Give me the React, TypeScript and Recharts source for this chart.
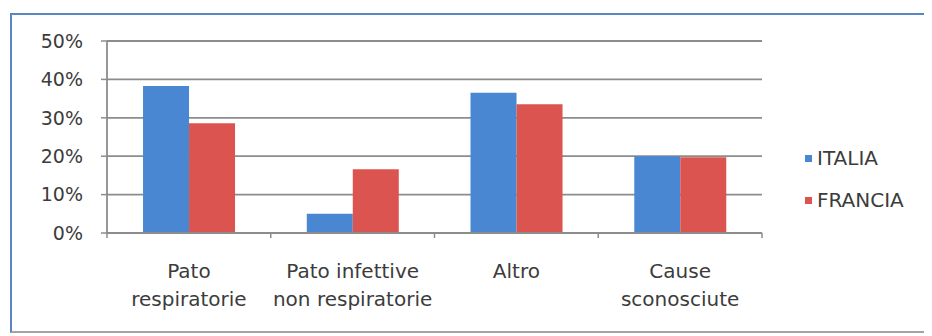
import { BarChart, Bar, XAxis, YAxis, CartesianGrid } from "recharts";

const categories = [
  "Pato\nrespiratorie",
  "Pato infettive\nnon respiratorie",
  "Altro",
  "Cause\nsconosciute",
];
const italia = [38.3, 5, 36.5, 20];
const francia = [28.6, 16.6, 33.5, 19.7];
const yTicks = [0, 10, 20, 30, 40, 50];

const seriesNames = ["ITALIA", "FRANCIA"];
const seriesColors = ["#4a87d2", "#db5450"];

const axisGray = "#8c8c8c";
const textColor = "#3c3c3c";
const font = "'DejaVu Sans', sans-serif";

const data = categories.map((name, i) => ({
  name,
  italia: italia[i],
  francia: francia[i],
}));

// two-line category labels plus little marks between the categories
function CategoryTick(props: any) {
  const { x, y, payload, width, visibleTicksCount, index } = props;
  const lines = String(payload.value).split("\n");
  const half = payload.offset || width / visibleTicksCount / 2;
  return (
    <g>
      <line x1={x - half} y1={y} x2={x - half} y2={y + 5} stroke={axisGray} strokeWidth={1.5} />
      {index === visibleTicksCount - 1 && (
        <line x1={x + half} y1={y} x2={x + half} y2={y + 5} stroke={axisGray} strokeWidth={1.5} />
      )}
      {lines.map((line, i) => (
        <text
          key={i}
          x={x}
          y={y + 45 + i * 28}
          textAnchor="middle"
          fontSize={20}
          fontFamily={font}
          fill={textColor}
        >
          {line}
        </text>
      ))}
    </g>
  );
}

export default function App() {
  return (
    <div style={{ position: "relative", width: 924, height: 328, fontFamily: font }}>
      <div
        style={{
          position: "absolute",
          left: 2,
          top: 5,
          width: 922,
          height: 320,
          boxSizing: "border-box",
          borderTop: "2px solid #5b86c2",
          borderLeft: "2px solid #5b86c2",
          borderBottom: "2px solid #a4a4a4",
          borderRight: "1px solid #e2e2e2",
        }}
      />
      <div style={{ position: "absolute", left: 0, top: 0 }}>
        <BarChart
          width={924}
          height={328}
          data={data}
          margin={{ top: 33, right: 170, bottom: 43, left: 0 }}
          barGap={0}
          barCategoryGap="22%"
        >
          <CartesianGrid vertical={false} stroke={axisGray} strokeWidth={1.8} />
          <XAxis
            dataKey="name"
            height={60}
            tickLine={false}
            tickSize={0}
            tickMargin={0}
            interval={0}
            axisLine={{ stroke: axisGray, strokeWidth: 1.8 }}
            tick={<CategoryTick />}
          />
          <YAxis
            width={99}
            domain={[0, 50]}
            ticks={yTicks}
            interval={0}
            tickFormatter={(v) => `${v}%`}
            tickSize={6}
            tickMargin={18}
            axisLine={{ stroke: axisGray, strokeWidth: 1.8 }}
            tickLine={{ stroke: axisGray, strokeWidth: 1.5 }}
            tick={{ fontSize: 19, fontFamily: font, fill: textColor }}
          />
          <Bar dataKey="italia" name={seriesNames[0]} fill={seriesColors[0]} isAnimationActive={false} />
          <Bar dataKey="francia" name={seriesNames[1]} fill={seriesColors[1]} isAnimationActive={false} />
        </BarChart>
      </div>
      <div style={{ position: "absolute", left: 797, top: 129 }}>
        {seriesNames.map((name, i) => (
          <div key={name} style={{ display: "flex", alignItems: "center", height: 42 }}>
            <span
              style={{
                display: "inline-block",
                width: 7,
                height: 7,
                marginRight: 5,
                background: seriesColors[i],
              }}
            />
            <span style={{ fontSize: 20, color: textColor }}>{name}</span>
          </div>
        ))}
      </div>
    </div>
  );
}
